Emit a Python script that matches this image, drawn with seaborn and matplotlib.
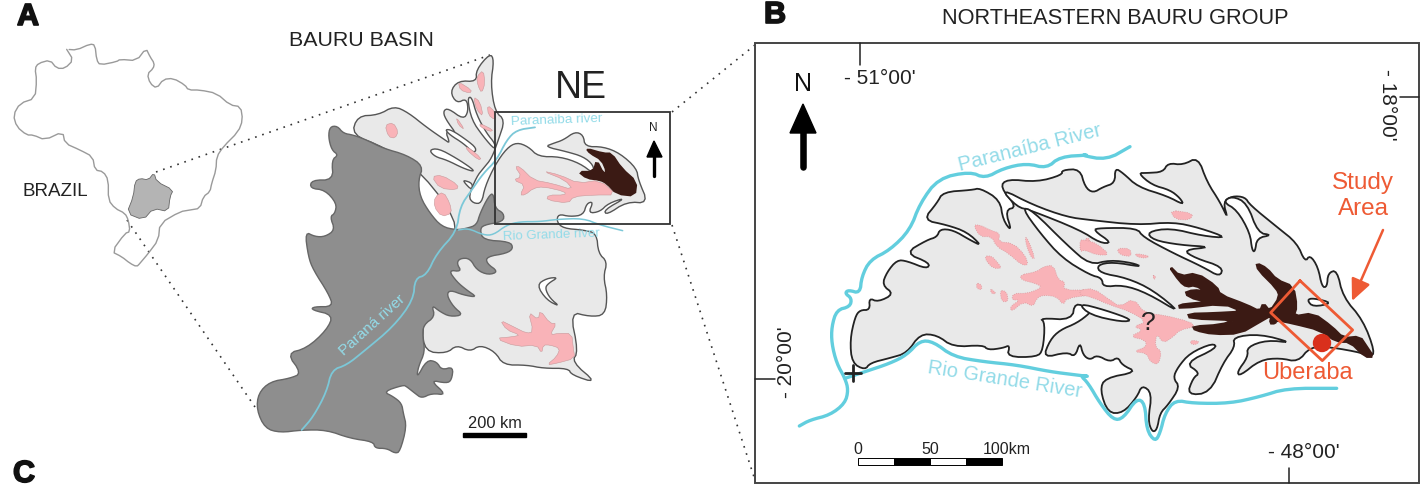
import numpy as np
import matplotlib
matplotlib.use('Agg')
import matplotlib.pyplot as plt
import matplotlib.patheffects as pe
import seaborn as sns

# outlines, either in page pixels or in 3x crop pixels
brazil = [(200,148),(230,150),(270,132),(285,135),(290,180),(300,195),(350,185),(360,178),(410,182),(438,145),(450,170),(463,190),(460,205),(442,222),(450,250),(470,265),(490,238),(520,235),(555,255),(565,270),(600,270),(650,280),(690,315),(722,320),(728,360),(715,395),(670,440),(650,470),(648,510),(635,550),(630,575),(610,590),(600,625),(570,630),(540,635),(480,670),(475,720),(445,760),(420,790),(410,800),(390,790),(365,770),(335,755),(375,700),(390,695),(385,660),(375,640),(345,625),(325,600),(325,540),(310,515),(285,510),(278,470),(240,450),(195,430),(188,395),(135,420),(100,405),(80,405),(50,380),(40,345),(60,310),(105,295),(110,240),(105,205),(115,190),(150,180),(170,205),(195,205),(220,180),(200,148)]
brazil_basin = [(405,545),(420,535),(445,540),(462,518),(470,545),(520,570),(510,590),(505,635),(460,625),(430,660),(380,640),(400,590)]

basin_light = [(305,285),(322,228),(385,225),(432,198),(475,218),(530,262),(585,300),(600,310),(585,270),(625,290),(585,235),(580,212),(595,205),(640,238),(655,215),(650,175),(620,190),(600,155),(625,122),(680,125),(678,90),(720,40),(732,60),(722,130),(735,215),(765,240),(745,300),(725,355),(700,385),(680,410),(655,470),(670,490),(695,490),(705,440),(735,375),(770,325),(800,307),(835,320),(865,350),(930,350),(990,370),(1032,402),(1030,375),(1000,350),(950,335),(885,320),(910,310),(940,300),(975,275),(1000,285),(1005,320),(1060,320),(1110,340),(1160,385),(1165,420),(1195,490),(1130,485),(1070,525),(1062,510),(1130,472),(1075,490),(1050,515),(1015,520),(1030,485),(1010,490),(1000,525),(960,530),(925,522),(920,545),(940,565),(1000,570),(1040,580),(1045,640),(1072,665),(1060,710),(1072,765),(1065,825),(1020,830),(960,815),(985,935),(965,965),(1042,1030),(965,1005),(955,985),(880,985),(830,975),(760,975),(735,935),(690,915),(660,935),(620,915),(590,940),(525,935),(515,860),(560,700),(640,570),(520,400),(400,320)]
basin_dark = [(240,260),(262,258),(280,280),(310,285),(350,300),(400,325),(470,345),(520,378),(505,420),(510,470),(540,520),(575,560),(620,570),(650,565),(680,555),(690,520),(715,470),(730,458),(735,505),(762,520),(760,545),(700,555),(690,570),(700,600),(780,605),(790,625),(770,640),(710,650),(710,670),(745,695),(715,705),(680,690),(660,655),(630,655),(620,670),(635,695),(595,690),(620,725),(650,750),(682,772),(640,765),(600,750),(590,765),(610,800),(640,825),(600,830),(570,815),(545,795),(555,830),(520,855),(518,890),(525,935),(505,980),(500,1015),(530,960),(560,965),(575,990),(610,980),(605,1020),(590,1030),(540,1020),(590,1065),(545,1060),(515,1075),(495,1060),(470,1040),(460,1035),(400,1055),(430,1070),(455,1090),(460,1120),(470,1160),(450,1235),(435,1240),(410,1225),(375,1225),(370,1205),(300,1195),(230,1170),(155,1170),(90,1178),(45,1165),(20,1110),(25,1060),(60,1025),(120,1015),(155,1000),(110,940),(170,925),(230,870),(250,825),(185,810),(190,800),(250,800),(235,760),(190,690),(175,650),(165,575),(195,590),(225,590),(255,570),(240,530),(255,520),(260,490),(225,450),(180,445),(185,420),(250,420),(245,360),(265,345),(245,330),(235,290)]
basin_slits = [
    [(537,330),(565,325),(620,355),(665,385),(672,395),(640,385),(590,360),(555,350)],
    [(585,268),(605,270),(650,300),(680,325),(672,340),(640,310),(600,285)],
    [(652,175),(665,170),(680,225),(710,280),(735,310),(735,330),(700,290),(665,240)],
    [(640,420),(668,430),(665,450),(645,430)],
    [(860,735),(890,715),(925,712),(895,730),(885,745),(900,775),(930,800),(890,780)],
]
basin_pink = [
    [(405,255),(430,248),(445,275),(435,295),(415,290)],
    [(545,410),(575,405),(625,435),(620,450),(570,445)],
    [(555,470),(580,455),(600,490),(605,520),(575,530),(552,500)],
    [(625,125),(665,150),(660,160),(630,150)],
    [(680,110),(700,90),(705,130),(695,160),(683,135)],
    [(670,170),(690,185),(700,230),(680,210)],
    [(712,195),(735,215),(735,240),(715,225)],
    [(690,250),(730,270),(720,275),(690,260)],
    [(618,230),(645,270),(625,255)],
    [(650,318),(695,355),(685,360),(650,330)],
    [(795,380),(810,380),(850,420),(905,430),(970,450),(945,420),(875,392),(930,405),(985,430),(1050,420),(1100,465),(1030,465),(970,470),(955,490),(890,480),(895,465),(945,465),(945,455),(880,440),(850,445),(825,465),(810,465),(825,435),(790,420),(815,410)],
    [(750,840),(790,860),(830,880),(850,875),(835,815),(865,840),(870,810),(900,850),(920,850),(900,885),(925,880),(965,880),(970,925),(975,955),(920,970),(890,975),(920,950),(930,925),(900,915),(880,915),(875,940),(860,915),(800,920),(735,895),(790,890),(810,885),(770,870)],
]
basin_brown = [(1008,325),(1060,340),(1085,340),(1115,385),(1160,425),(1155,468),(1100,462),(1070,430),(1050,420),(1010,415),(985,395),(1030,395),(1040,360),(1060,400),(1070,395),(1055,360),(1020,340)]
parana_river = [(155,1170),(190,1130),(230,1055),(245,990),(290,975),(340,935),(430,860),(490,780),(495,715),(530,705),(560,640),(620,575),(630,500),(665,450),(700,400),(740,360),(770,300),(800,270),(855,262)]
grande_small = [(625,570),(655,565),(700,585),(730,585),(770,555),(810,545),(870,545),(920,538),(1000,535),(1050,555),(1118,572)]

ne_outline = [(865,370),(852,363),(850,340),(855,317),(860,310),(870,310),(869,298),(878,302),(894,294),(882,285),(887,272),(897,260),(907,261),(927,269),(930,263),(905,253),(927,240),(937,237),(940,229),(953,230),(970,240),(982,246),(967,232),(947,225),(923,220),(937,203),(943,192),(972,190),(980,188),(1000,200),(1003,220),(1012,232),(1005,210),(1017,207),(1000,187),(1007,179),(1037,182),(1062,175),(1062,170),(1080,169),(1085,187),(1093,193),(1103,187),(1115,183),(1115,168),(1123,173),(1138,187),(1167,196),(1184,205),(1180,198),(1170,190),(1152,185),(1138,173),(1147,173),(1163,172),(1168,163),(1183,165),(1198,157),(1207,182),(1220,202),(1228,219),(1223,202),(1232,196),(1245,197),(1250,205),(1277,227),(1297,243),(1305,262),(1310,255),(1318,267),(1322,287),(1327,287),(1328,273),(1337,270),(1343,297),(1363,320),(1375,352),(1370,357),(1363,353),(1330,347),(1310,347),(1298,362),(1280,358),(1260,360),(1240,376),(1237,372),(1248,357),(1247,347),(1267,340),(1293,343),(1260,334),(1233,337),(1235,347),(1223,363),(1210,393),(1187,395),(1193,378),(1200,373),(1185,363),(1217,348),(1213,343),(1190,353),(1178,367),(1173,378),(1180,387),(1168,405),(1160,413),(1157,430),(1152,432),(1148,420),(1152,393),(1142,385),(1137,397),(1123,413),(1108,413),(1100,390),(1105,378),(1137,372),(1122,365),(1118,357),(1110,362),(1097,355),(1090,360),(1083,355),(1080,342),(1075,357),(1067,352),(1043,358),(1050,340),(1060,330),(1077,323),(1090,313),(1090,310),(1075,302),(1072,320),(1040,318),(1045,323),(1043,350),(1037,357),(1007,357),(1010,345),(1003,348),(988,350),(983,345),(953,347),(937,335),(920,334),(907,353),(890,358),(870,363)]
ne_slits = [
    [(1000,188),(1033,205),(1067,217),(1090,220),(1137,225),(1173,222),(1200,228),(1228,238),(1203,236),(1170,228),(1147,232),(1153,240),(1180,245),(1212,247),(1183,250),(1195,258),(1223,267),(1220,277),(1203,267),(1173,253),(1143,237),(1137,228),(1100,228),(1093,230),(1112,243),(1100,243),(1080,230),(1030,210),(1017,207)],
    [(1022,208),(1040,233),(1062,258),(1090,275),(1102,278),(1103,287),(1123,285),(1147,293),(1182,314),(1153,290),(1127,278),(1100,273),(1097,265),(1113,262),(1142,267),(1133,263),(1110,260),(1090,265),(1067,245),(1032,210)],
    [(1078,303),(1105,310),(1133,320),(1122,322),(1090,315)],
    [(1232,196),(1247,203),(1258,233),(1272,235),(1257,238),(1255,252),(1252,250),(1250,233),(1237,210),(1223,202)],
    [(1307,300),(1313,298),(1333,303),(1313,307)],
]
ne_pink_left = [
    [(670,285),(690,285),(720,300),(750,310),(745,335),(790,340),(825,375),(835,405),(815,405),(775,370),(740,350),(725,320),(690,320)],
    [(705,378),(725,378),(745,400),(755,415),(730,415),(710,395)],
    [(825,320),(835,330),(855,385),(845,385),(830,350)],
    [(680,458),(695,465),(695,480),(680,475)],
    [(720,475),(740,490),(725,492)],
    [(750,480),(770,485),(775,515),(755,515)],
    [(810,435),(860,425),(880,410),(910,405),(925,450),(945,455),(940,480),(1020,480),(1020,495),(950,505),(940,525),(920,500),(880,495),(860,505),(850,530),(820,515),(785,545),(780,530),(810,510),(785,510),(790,490),(830,490),(860,480),(875,470),(855,460),(815,450)],
    [(1005,325),(1020,325),(1020,365),(1005,360)],
]
ne_pink_right = [
    [(0,330),(15,330),(50,340),(90,375),(50,375),(15,360),(0,365)],
    [(110,355),(150,355),(155,380),(120,375)],
    [(165,370),(210,378),(195,385),(170,380)],
    [(270,240),(340,250),(330,270),(285,268)],
    [(0,480),(40,475),(90,510),(120,530),(160,505),(195,550),(250,555),(330,575),(345,590),(300,600),(280,620),(250,640),(230,610),(225,650),(245,665),(235,705),(210,695),(200,670),(160,665),(200,650),(195,630),(150,620),(190,600),(160,590),(200,575),(150,545),(90,525),(30,500),(0,495)],
    [(335,630),(360,635),(345,645),(330,640)],
    [(218,435),(228,440),(222,450)],
]
ne_brown = [(265,405),(300,440),(350,430),(410,470),(420,495),(500,525),(540,545),(550,520),(570,545),(600,500),(590,475),(535,420),(530,400),(560,415),(590,450),(640,470),(650,530),(640,560),(700,550),(755,590),(790,625),(840,620),(860,650),(880,680),(855,680),(810,635),(770,635),(720,600),(640,580),(590,570),(585,580),(570,580),(575,555),(540,575),(480,610),(400,612),(345,600),(340,590),(420,585),(470,570),(330,565),(325,552),(400,550),(490,545),(430,520),(300,535),(298,525),(340,520),(410,515),(350,510),(312,490),(340,480),(380,485),(345,465),(320,470),(300,455)]
paranaiba_left = [(148,888),(180,870),(240,855),(285,820),(295,780),(285,745),(260,700),(245,640),(245,590),(260,540),(300,530),(305,505),(285,490),(295,480),(330,490),(335,440),(360,390),(420,360),(480,300),(510,220),(565,145),(660,125),(705,145),(760,115),(830,100),(890,115),(930,80),(1020,75)]
paranaiba_right = [(0,75),(80,90),(150,50)]
grande_left = [(285,745),(345,725),(420,700),(470,675),(510,632),(550,635),(610,680),(700,695),(800,705),(900,725),(980,735),(1020,740)]
grande_right = [(0,735),(25,760),(60,820),(100,870),(130,865),(170,805),(195,820),(200,900),(225,935),(240,910),(255,850),(285,810),(340,820),(450,820),(540,800),(620,775),(770,775)]
study_box = [(660,452),(818,600),(727,692),(572,548),(660,452)]

scale_km = [0, 50, 100]
scale_labels = ['0', '50', '100km']


def rounded(xs, ys, closed=True, passes=2):
    # corner cutting so the traced outlines read as curves, not polygons
    first, last = (xs[0], ys[0]), (xs[-1], ys[-1])
    for _ in range(passes):
        if closed:
            nx, ny = np.roll(xs, -1), np.roll(ys, -1)
        else:
            nx, ny = xs[1:], ys[1:]
            xs, ys = xs[:-1], ys[:-1]
        qx = np.column_stack([0.75 * xs + 0.25 * nx, 0.25 * xs + 0.75 * nx]).ravel()
        qy = np.column_stack([0.75 * ys + 0.25 * ny, 0.25 * ys + 0.75 * ny]).ravel()
        xs, ys = qx, qy
    if not closed:
        # rivers keep their end points
        xs = np.r_[first[0], xs, last[0]]
        ys = np.r_[first[1], ys, last[1]]
    return xs, ys


def crop(pts, left, top):
    # 3x crop pixels back to page pixels
    arr = np.array(pts, dtype=float)
    return arr[:, 0] / 3 + left, arr[:, 1] / 3 + top


def page(pts):
    arr = np.array(pts, dtype=float)
    return arr[:, 0], arr[:, 1]


def shape(ax, xs, ys, face, edge='#3a3a3a', lw=1.0, ls='-', z=2, passes=2):
    xs, ys = rounded(xs, ys, passes=passes)
    ax.fill(xs, ys, facecolor=face, edgecolor=edge, linewidth=lw, linestyle=ls, zorder=z)


def line(ax, xs, ys, color, lw=1.0, ls='-', z=4):
    sns.lineplot(x=xs, y=ys, sort=False, estimator=None, ax=ax, color=color,
                 linewidth=lw, linestyle=ls, zorder=z, legend=False)


sns.set_theme(style='white')
plt.rcParams['font.family'] = ['Liberation Sans', 'DejaVu Sans']

fig = plt.figure(figsize=(14.26, 4.88), dpi=100)
ax = fig.add_axes([0, 0, 1, 1])
ax.set_xlim(0, 1426)
ax.set_ylim(488, 0)
ax.axis('off')

RIVER = '#7cc8d8'
RIVER_B = '#62cede'
RIVER_TXT = '#93dbe8'
LIGHT = '#e9e9e9'
DARK = '#8e8e8e'
PINK = '#f9b3b8'
BROWN = '#3b1a14'
RED = '#ee5a34'
INK = '#222222'

# Brazil
bx, by = crop(brazil, 0, 0)
line(ax, *rounded(bx, by, passes=1), '#9a9a9a', lw=1.0)
shape(ax, *crop(brazil_basin, 0, 0), '#b4b4b4', edge='#666666', lw=0.6, passes=1)

# dotted leaders
for x0, y0, x1, y1 in [(156, 172, 490, 55), (127, 220, 255, 407), (672, 112, 755, 45), (672, 225, 755, 480)]:
    line(ax, np.array([x0, x1]), np.array([y0, y1]), '#333333', lw=1.2, ls=(0, (1, 3.5)), z=1)

# basin map
shape(ax, *crop(basin_light, 250, 40), LIGHT, edge='#555555')
for s in basin_slits:
    shape(ax, *crop(s, 250, 40), 'white', edge='#555555', z=3)
for s in basin_pink:
    shape(ax, *crop(s, 250, 40), PINK, edge='#c99a9c', lw=0.4, z=3, passes=1)
shape(ax, *crop(basin_brown, 250, 40), BROWN, edge=BROWN, lw=1.2, z=3, passes=1)
shape(ax, *crop(basin_dark, 250, 40), DARK, edge='#666666', z=3)
line(ax, *rounded(*crop(parana_river, 250, 40), closed=False), RIVER, lw=1.3)
line(ax, *rounded(*crop(grande_small, 250, 40), closed=False), RIVER, lw=1.1)

ax.add_patch(plt.Rectangle((495, 112), 175, 112, fill=False, edgecolor='#333333', linewidth=1.3, zorder=5))
ax.text(581, 88, 'NE', fontsize=27, ha='center', va='center', color=INK)
ax.text(361, 41, 'BAURU BASIN', fontsize=15.4, ha='center', va='center', color=INK)
ax.text(55, 192, 'BRAZIL', fontsize=13.5, ha='center', va='center', color=INK)
ax.text(557, 120, 'Paranaiba river', fontsize=9.7, rotation=2, ha='center', va='center', color=RIVER_TXT, zorder=6)
ax.text(551, 235, 'Rio Grande river', fontsize=9.5, rotation=2, ha='center', va='center', color=RIVER_TXT, zorder=6)
ax.text(372, 325, 'Paraná river', fontsize=11, rotation=42, ha='center', va='center', color=RIVER_TXT, zorder=6)
ax.text(653, 128, 'N', fontsize=8.5, ha='center', va='center', color=INK)
ax.fill([647, 654, 662], [157, 141, 157], color='black', zorder=6)
line(ax, np.array([654, 654]), np.array([155, 176]), 'black', lw=2.4, z=6)
ax.text(495, 423, '200 km', fontsize=11.8, ha='center', va='center', color=INK)
ax.add_patch(plt.Rectangle((463, 433), 63, 4, color='black', zorder=5))

# panel B frame and graticule
ax.add_patch(plt.Rectangle((755, 43), 664, 440, fill=False, edgecolor='#444444', linewidth=1.4, zorder=5))
for x0, y0, x1, y1 in [(860, 43, 860, 65), (1400, 97, 1419, 97), (755, 379, 775, 379), (1289, 468, 1289, 483)]:
    line(ax, np.array([x0, x1]), np.array([y0, y1]), INK, lw=1.1, z=5)
ax.text(880, 79, "- 51°00'", fontsize=15, ha='center', va='center', color=INK)
ax.text(1387, 105, "- 18°00'", fontsize=15, rotation=-90, ha='center', va='center', color=INK)
ax.text(787, 362, "- 20°00'", fontsize=15, rotation=90, ha='center', va='center', color=INK)
ax.text(1304, 453, "- 48°00'", fontsize=15, ha='center', va='center', color=INK)
ax.text(1115, 18, 'NORTHEASTERN BAURU GROUP', fontsize=15.7, ha='center', va='center', color=INK)
ax.text(803, 84, 'N', fontsize=18, ha='center', va='center', color='#111111')
ax.fill([790, 803, 816], [133, 104, 133], color='black', zorder=6)
line(ax, np.array([803, 803]), np.array([130, 167]), 'black', lw=4.7, z=6)

# NE map
shape(ax, *page(ne_outline), LIGHT, edge=INK, lw=1.3)
for s in ne_slits:
    shape(ax, *page(s), 'white', edge=INK, lw=1.3, z=3)
for s in ne_pink_left:
    shape(ax, *crop(s, 750, 130), PINK, edge='#d99a9e', lw=0.6, ls=':', z=3, passes=1)
for s in ne_pink_right:
    shape(ax, *crop(s, 1080, 130), PINK, edge='#d99a9e', lw=0.6, ls=':', z=3, passes=1)
shape(ax, *crop(ne_brown, 1080, 130), BROWN, edge=BROWN, lw=1.8, z=4, passes=1)

lx, ly = crop(paranaiba_left, 750, 130)
rx, ry = crop(paranaiba_right, 1080, 130)
line(ax, *rounded(np.r_[lx, rx], np.r_[ly, ry], closed=False), RIVER_B, lw=2.4)
lx, ly = crop(grande_left, 750, 130)
rx, ry = crop(grande_right, 1080, 130)
line(ax, *rounded(np.r_[lx, rx], np.r_[ly, ry], closed=False), RIVER_B, lw=2.4)

ax.text(1030, 148, 'Paranaíba River', fontsize=14.6, rotation=14, ha='center', va='center', color=RIVER_TXT)
ax.text(1005, 380, 'Rio Grande River', fontsize=14.5, rotation=-9, ha='center', va='center', color=RIVER_TXT)
ax.text(1148, 323, '?', fontsize=19, ha='center', va='center', color=INK, zorder=6)

# cross at the confluence
line(ax, np.array([845, 861]), np.array([373, 373]), INK, lw=2, z=6)
line(ax, np.array([853, 853]), np.array([365, 381]), INK, lw=2, z=6)

# study area
line(ax, *crop(study_box, 1080, 130), RED, lw=2, z=6)
ax.add_patch(plt.Circle((1322, 343), 8.5, color='#d9301c', zorder=7))
ax.text(1307, 373, 'Uberaba', fontsize=17, ha='center', va='center', color=RED, zorder=7)
ax.text(1363, 196, 'Study\nArea', fontsize=17.5, ha='center', va='center', color=RED, linespacing=1.2, zorder=7)
ax.annotate('', xy=(1352, 301), xytext=(1383, 230), zorder=7,
            arrowprops=dict(arrowstyle='-|>,head_width=0.5,head_length=1.1', color=RED, lw=1.8, shrinkA=0, shrinkB=0))

# scale bar: 100 km spans 144 page pixels
km_px = 1.44
x_start = 858
for i, c in enumerate(['white', 'black', 'white', 'black']):
    ax.add_patch(plt.Rectangle((x_start + i * 25 * km_px, 458), 25 * km_px, 7, facecolor=c, edgecolor='black', linewidth=0.7, zorder=5))
for km, lab in zip(scale_km, scale_labels):
    off = 5 if km == 100 else 0
    ax.text(x_start + km * km_px + off, 449, lab, fontsize=11.5, ha='center', va='center', color=INK)

# panel letters
stroke = [pe.withStroke(linewidth=1.2, foreground='#111111')]
for lab, x, y in [('A', 28, 17), ('B', 775, 15), ('C', 24, 474)]:
    ax.text(x, y, lab, fontsize=22, fontweight='bold', ha='center', va='center', color='#111111', path_effects=stroke)

fig.savefig('out.png', dpi=100)
